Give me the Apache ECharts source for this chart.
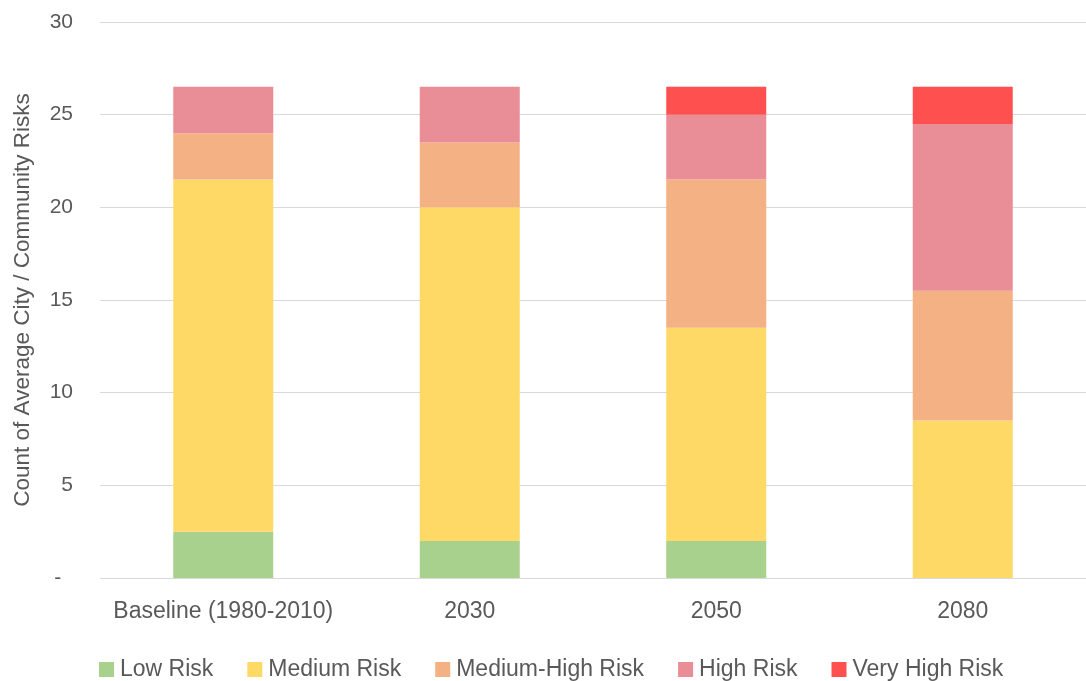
<!DOCTYPE html>
<html>
<head>
<meta charset="utf-8">
<script src="https://cdn.jsdelivr.net/npm/echarts@6/dist/echarts.min.js"></script>
<style>
html,body{margin:0;padding:0;background:#fff;}
#chart{width:1086px;height:681px;}
</style>
</head>
<body>
<div id="chart"></div>
<script>
var categories = ['Baseline (1980-2010)', '2030', '2050', '2080'];
var lowRisk = [2.5, 2, 2, 0];
var mediumRisk = [19, 18, 11.5, 8.5];
var mediumHighRisk = [2.5, 3.5, 8, 7];
var highRisk = [2.5, 3, 3.5, 9];
var veryHighRisk = [0, 0, 1.5, 2];
var seriesNames = ['Low Risk', 'Medium Risk', 'Medium-High Risk', 'High Risk', 'Very High Risk'];
var yTicks = {min: 0, max: 30, interval: 5};
var yTitle = 'Count of Average City / Community Risks';

var FONT = "'Liberation Sans', Arial, sans-serif";
var TXT = '#595959';
var colors = ['#A9D18E', '#FFD966', '#F4B183', '#E98D97', '#FF5050'];
var values = [lowRisk, mediumRisk, mediumHighRisk, highRisk, veryHighRisk];

var chart = echarts.init(document.getElementById('chart'), null, {renderer: 'canvas'});
chart.setOption({
  animation: false,
  backgroundColor: '#fff',
  textStyle: {fontFamily: FONT, color: TXT},
  grid: {left: 100, top: 22, width: 992, bottom: 103, containLabel: false},
  legend: {
    left: 99, top: 658, padding: 0,
    itemWidth: 15, itemHeight: 15, itemGap: 34,
    icon: 'rect',
    textStyle: {fontFamily: FONT, fontSize: 23, color: TXT, padding: [0, 0, 0, 1]},
    data: seriesNames
  },
  xAxis: {
    type: 'category',
    data: categories,
    axisLine: {show: false},
    axisTick: {show: false},
    axisLabel: {fontFamily: FONT, fontSize: 23, color: TXT, margin: 22, interval: 0}
  },
  yAxis: {
    type: 'value',
    min: yTicks.min, max: yTicks.max, interval: yTicks.interval,
    name: yTitle,
    nameLocation: 'middle',
    nameGap: 66,
    nameTextStyle: {fontFamily: FONT, fontSize: 22.5, color: TXT},
    axisLine: {show: false},
    axisTick: {show: false},
    splitLine: {lineStyle: {color: '#D9D9D9', width: 1}},
    axisLabel: {
      fontFamily: FONT, fontSize: 21, color: TXT, margin: 27,
      formatter: function (v) { return v === 0 ? '-  ' : String(v); }
    }
  },
  series: seriesNames.map(function (n, i) {
    return {
      name: n,
      type: 'bar',
      stack: 'total',
      barWidth: 100,
      data: values[i],
      itemStyle: {color: colors[i]}
    };
  })
});
</script>
</body>
</html>
